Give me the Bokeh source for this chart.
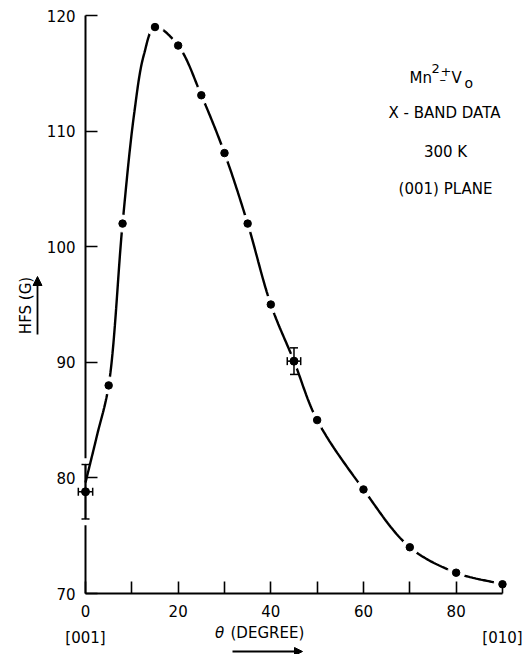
import numpy as np
from bokeh.plotting import figure
from bokeh.models import (Range1d, FixedTicker, Label, Arrow, NormalHead,
                          ColumnDataSource, BoxAnnotation)
from bokeh.embed import file_html
from bokeh.resources import INLINE

# ---------------- data ----------------
theta = [5, 8, 15, 20, 25, 30, 35, 40, 50, 60, 70, 80, 90]
hfs = [88.0, 102.0, 119.0, 117.4, 113.1, 108.1, 102.0, 95.0, 85.0, 79.0, 74.0, 71.8, 70.8]

err_theta = [0, 45]
err_hfs = [78.8, 90.1]
err_dy = [2.35, 1.15]
err_dx = [1.55, 1.45]

# hand-drawn guide curve (knots)
curve_theta = [0, 2.5, 5, 8, 10.5, 12.6, 15, 20, 25, 30, 35, 40, 45, 50, 60, 70, 80, 90]
curve_hfs = [79.6, 83.7, 88.0, 102.0, 111.5, 116.6, 119.0, 117.4, 113.1, 108.1,
             102.0, 95.0, 90.1, 85.0, 79.0, 74.0, 71.8, 70.8]

x_ticks = [0, 10, 20, 30, 40, 50, 60, 70, 80, 90]
x_tick_labels = ["0", "", "20", "", "40", "", "60", "", "80", ""]
y_ticks = [70, 80, 90, 100, 110, 120]
y_tick_labels = ["70", "80", "90", "100", "110", "120"]

# ---------------- layout ----------------
W, H = 524, 654
PX_X0, PX_PER_DEG = 85.0, 4.633      # pixel of theta=0, pixels per degree
PY_Y70, PX_PER_G = 593.0, 11.56      # pixel of HFS=70, pixels per gauss


def dx(px):
    return (px - PX_X0) / PX_PER_DEG


def dy(py):
    return 70 + (PY_Y70 - py) / PX_PER_G


# the frame covers the whole canvas; the axes sit at fixed data locations
p = figure(width=W, height=H, output_backend="svg", toolbar_location=None,
           x_range=Range1d(dx(0), dx(W)), y_range=Range1d(dy(H), dy(0)),
           min_border=0, min_border_left=0, min_border_right=0,
           min_border_top=0, min_border_bottom=0)
p.xgrid.visible = False
p.ygrid.visible = False
p.outline_line_color = None
p.background_fill_color = "white"
p.border_fill_color = "white"

FONT = "DejaVu Sans"

for ax in (p.xaxis[0], p.yaxis[0]):
    ax.axis_line_width = 2
    ax.axis_line_color = "black"
    ax.major_tick_line_width = 1.6
    ax.major_tick_line_color = "black"
    ax.major_tick_in = 12
    ax.major_tick_out = 0
    ax.minor_tick_line_color = None
    ax.major_label_text_font = FONT
    ax.major_label_text_font_size = "15px"
    ax.major_label_text_color = "black"

p.xaxis.ticker = FixedTicker(ticks=x_ticks)
p.xaxis.major_label_overrides = {t: s for t, s in zip(x_ticks, x_tick_labels)}
p.xaxis.bounds = (0, 90)
p.xaxis.fixed_location = 70
p.xaxis.major_label_standoff = 11

p.yaxis.ticker = FixedTicker(ticks=y_ticks)
p.yaxis.major_label_overrides = {t: s for t, s in zip(y_ticks, y_tick_labels)}
p.yaxis.bounds = (70, 120)
p.yaxis.fixed_location = 0
p.yaxis.major_label_standoff = 10


# ---------------- smooth guide curve (centripetal Catmull-Rom) ----------------
def catmull_rom(xs, ys, n=30):
    P = np.column_stack([np.asarray(xs) * PX_PER_DEG, np.asarray(ys) * PX_PER_G])
    P = np.vstack([2 * P[0] - P[1], P, 2 * P[-1] - P[-2]])
    out = []
    for i in range(1, len(P) - 2):
        p0, p1, p2, p3 = P[i - 1], P[i], P[i + 1], P[i + 2]
        t0 = 0.0
        t1 = t0 + np.linalg.norm(p1 - p0) ** 0.5
        t2 = t1 + np.linalg.norm(p2 - p1) ** 0.5
        t3 = t2 + np.linalg.norm(p3 - p2) ** 0.5
        t = np.linspace(t1, t2, n, endpoint=False)[:, None]
        A1 = (t1 - t) / (t1 - t0) * p0 + (t - t0) / (t1 - t0) * p1
        A2 = (t2 - t) / (t2 - t1) * p1 + (t - t1) / (t2 - t1) * p2
        A3 = (t3 - t) / (t3 - t2) * p2 + (t - t2) / (t3 - t2) * p3
        B1 = (t2 - t) / (t2 - t0) * A1 + (t - t0) / (t2 - t0) * A2
        B2 = (t3 - t) / (t3 - t1) * A2 + (t - t1) / (t3 - t1) * A3
        C = (t2 - t) / (t2 - t1) * B1 + (t - t1) / (t2 - t1) * B2
        out.append(C)
    out.append(P[-2][None, :])
    C = np.vstack(out)
    return C[:, 0] / PX_PER_DEG, C[:, 1] / PX_PER_G


cx, cy = catmull_rom(curve_theta, curve_hfs)
p.line(cx, cy, line_color="black", line_width=2.4)

# white halos give the pen-lifted gaps around each point
p.scatter(theta, hfs, marker="circle", size=17, fill_color="white", fill_alpha=1.0,
          line_color="white", line_width=1)
p.scatter(err_theta, err_hfs, marker="circle", size=15, fill_color="white", fill_alpha=1.0,
          line_color="white", line_width=1)

p.scatter(theta, hfs, marker="circle", size=7.5, fill_color="black", line_color="black")

# error bars (drawn as glyphs from the error arrays)
ylo = [v - e for v, e in zip(err_hfs, err_dy)]
yhi = [v + e for v, e in zip(err_hfs, err_dy)]
xlo = [v - e for v, e in zip(err_theta, err_dx)]
xhi = [v + e for v, e in zip(err_theta, err_dx)]
src = ColumnDataSource(dict(x=err_theta, y=err_hfs, ylo=ylo, yhi=yhi, xlo=xlo, xhi=xhi))

p.segment(x0="x", y0="ylo", x1="x", y1="yhi", source=src, line_color="black", line_width=1.5)
p.segment(x0="xlo", y0="y", x1="xhi", y1="y", source=src, line_color="black", line_width=1.5)
p.scatter(x=err_theta + err_theta, y=ylo + yhi, marker="dash", size=8,
          line_color="black", line_width=1.5)
p.scatter(x=xlo + xhi, y=err_hfs + err_hfs, marker="dash", size=8, angle=np.pi / 2,
          line_color="black", line_width=1.5)
p.scatter("x", "y", source=src, marker="circle", size=8, fill_color="black", line_color="black")

# small breaks in the ordinate line just beyond the caps of the first error bar
for lo, hi in ((yhi[0] + 0.08, yhi[0] + 0.55), (ylo[0] - 0.55, ylo[0] - 0.08)):
    p.add_layout(BoxAnnotation(left=-0.4, right=0.4, bottom=lo, top=hi,
                               fill_color="white", fill_alpha=1.0, line_color=None))


# ---------------- texts ----------------
def lab(px, py, text, size="15px", align="center", baseline="middle", angle=0.0, style="normal"):
    p.add_layout(Label(x=dx(px), y=dy(py), text=text, text_font=FONT, text_font_size=size,
                       text_align=align, text_baseline=baseline, angle=angle,
                       text_font_style=style, text_color="black"))


# Mn2+ - Vo
lab(409, 77, "Mn", align="left", baseline="alphabetic")
lab(431, 68, "2", size="13px", align="left", baseline="alphabetic")
lab(440, 71, "+", size="13px", align="left", baseline="alphabetic")
lab(439, 79, "\u2013", size="13px", align="left", baseline="alphabetic")
lab(451, 77, "V", align="left", baseline="alphabetic")
lab(464, 82, "o", size="14px", align="left", baseline="alphabetic")

lab(444, 112, "X - BAND DATA")
lab(445, 151, "300 K")
lab(445, 188, "(001) PLANE")

# axis titles and direction labels
lab(25, 305, "HFS (G)", angle=np.pi / 2)
lab(85, 637, "[001]")
lab(502, 637, "[010]")
lab(219, 632, "\u03b8", style="italic")
lab(230, 632, "(DEGREE)", align="left")

p.add_layout(Arrow(x_start=dx(37), y_start=dy(334), x_end=dx(37), y_end=dy(276),
                   line_width=1.8, line_color="black",
                   end=NormalHead(size=9, fill_color="black", line_color="black")))
p.add_layout(Arrow(x_start=dx(232), y_start=dy(651), x_end=dx(302), y_end=dy(651),
                   line_width=1.8, line_color="black",
                   end=NormalHead(size=8, fill_color="black", line_color="black")))

open("out.html", "w").write(file_html(p, INLINE))
